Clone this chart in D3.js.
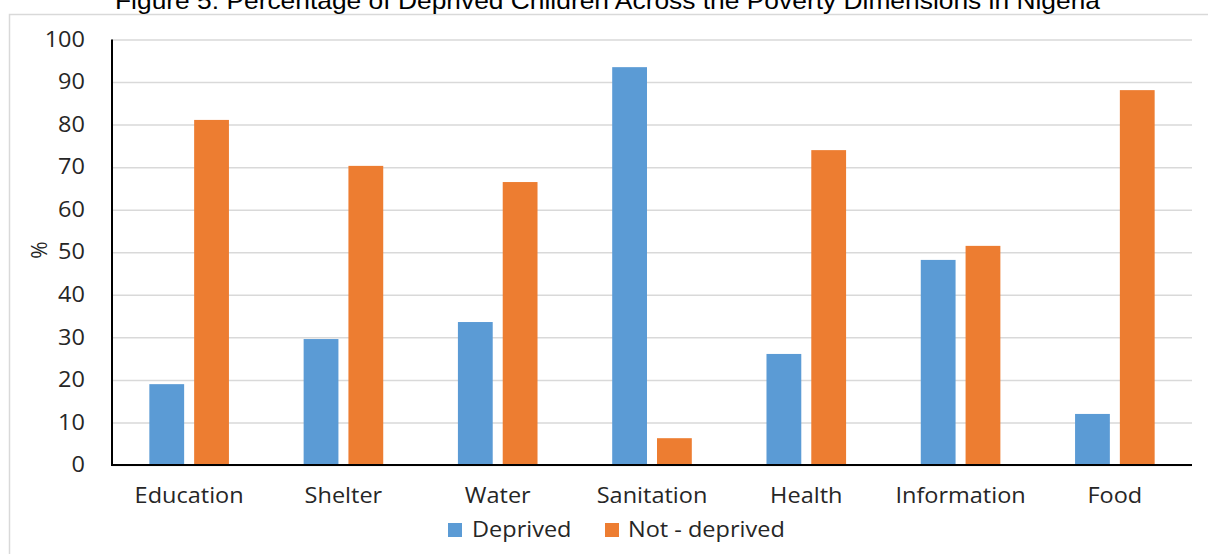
<!DOCTYPE html>
<html><head><meta charset="utf-8">
<script src="https://cdn.jsdelivr.net/npm/d3@7"></script>
<style>
html,body{margin:0;padding:0;background:#fff;}
svg{display:block;}
</style></head>
<body>
<svg id="chart" width="1208" height="554"></svg>
<script>
const title = "Figure 5: Percentage of Deprived Children Across the Poverty Dimensions in Nigeria";
const categories = ["Education","Shelter","Water","Sanitation","Health","Information","Food"];
const seriesNames = ["Deprived","Not - deprived"];
const deprived = [19.0, 29.6, 33.6, 93.5, 26.1, 48.2, 12.0];
const notDeprived = [81.1, 70.3, 66.5, 6.3, 74.0, 51.5, 88.1];
const yTicks = [0,10,20,30,40,50,60,70,80,90,100];
const colors = ["#5B9BD5","#ED7D31"];

const svg = d3.select("#chart");
const SX = 1.12;
const font = "'Open Sans', sans-serif";
const m = {left:112, right:1192, top:39.5, bottom:465};

// outer border
svg.append("rect").attr("x",9.5).attr("y",14.5).attr("width",1220).attr("height",600)
  .attr("fill","none").attr("stroke","#d9d9d9").attr("stroke-width",1.5);

// title (clipped at top, as in the reference)
svg.append("text").attr("x",115).attr("y",9)
  .attr("textLength",985).attr("lengthAdjust","spacingAndGlyphs")
  .attr("font-family","'Liberation Sans', Arial, sans-serif")
  .attr("font-size",24).attr("fill","#000").text(title);

const x = d3.scaleBand().domain(categories).range([m.left,m.right]).padding(0);
const y = d3.scaleLinear().domain([0,100]).range([m.bottom,m.top]);

// gridlines + y axis labels
const yAxis = d3.axisLeft(y).tickValues(yTicks).tickSize(-(m.right-m.left)).tickPadding(27);
const gy = svg.append("g").attr("transform",`translate(${m.left},0)`).call(yAxis);
gy.select(".domain").remove();
gy.selectAll(".tick line").attr("stroke","#d9d9d9").attr("stroke-width",1.5);
gy.selectAll(".tick text").attr("font-family",font).attr("font-size",21).attr("fill","#262626")
  .attr("x",-27/SX).attr("transform",`scale(${SX},1)`);

// bars
const barW = 34.8, gap = 10;
const series = [deprived, notDeprived];
series.forEach((vals,si)=>{
  svg.append("g").selectAll("rect").data(categories).join("rect")
    .attr("x",(c)=> x(c)+x.bandwidth()/2 + (si===0 ? -gap/2-barW : gap/2))
    .attr("y",(c,i)=>y(vals[i]))
    .attr("width",barW)
    .attr("height",(c,i)=>y(0)-y(vals[i]))
    .attr("fill",colors[si]);
});

// axes lines
svg.append("line").attr("x1",m.left).attr("x2",m.left).attr("y1",y(100)).attr("y2",y(0)+1)
  .attr("stroke","#000").attr("stroke-width",2);
svg.append("line").attr("x1",m.left-1).attr("x2",m.right).attr("y1",y(0)).attr("y2",y(0))
  .attr("stroke","#000").attr("stroke-width",2);

// category labels
svg.append("g").selectAll("text").data(categories).join("text")
  .attr("transform",c=>`translate(${x(c)+x.bandwidth()/2},503) scale(${SX},1)`)
  .attr("text-anchor","middle").attr("font-family",font).attr("font-size",21).attr("fill","#262626")
  .text(c=>c);

// y label
svg.append("text").attr("transform","translate(47,250) rotate(-90)")
  .attr("text-anchor","middle").attr("font-family",font).attr("font-size",21).attr("fill","#262626")
  .text("%");

// legend
const legendItems = [{name:seriesNames[0],x:448,tx:472},{name:seriesNames[1],x:605,tx:628}];
legendItems.forEach((d,i)=>{
  svg.append("rect").attr("x",d.x).attr("y",523).attr("width",14).attr("height",14).attr("fill",colors[i]);
  svg.append("text").attr("transform",`translate(${d.tx},537) scale(${SX},1)`)
    .attr("font-family",font).attr("font-size",21).attr("fill","#262626").text(d.name);
});
</script>
</body></html>
